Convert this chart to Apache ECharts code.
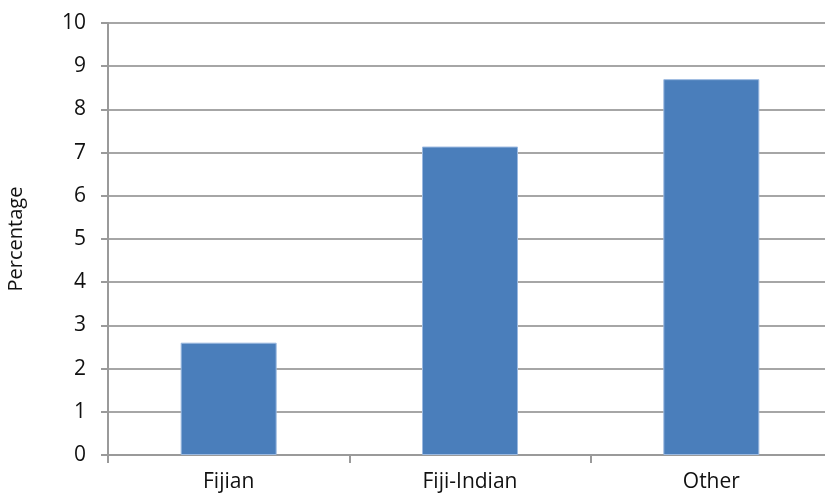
<!DOCTYPE html>
<html>
<head>
<meta charset="utf-8">
<script src="https://cdn.jsdelivr.net/npm/echarts@6/dist/echarts.min.js"></script>
<style>
    html, body { margin: 0; padding: 0; background: #fff; }
    #chart { width: 825px; height: 499px; }
</style>
</head>
<body>
<div id="chart"></div>
<script>
    var categories = ['Fijian', 'Fiji-Indian', 'Other'];
    var percentages = [2.6, 7.14, 8.7];
    var yTicks = [0, 10, 1]; // min, max, interval

    var font = '"Open Sans", "Noto Sans", sans-serif';
    var myChart = echarts.init(document.getElementById('chart'));
    var option = {
        animation: false,
        grid: { left: 108, right: -7, top: 23, bottom: 44, outerBoundsMode: 'none', containLabel: false },
        xAxis: {
            type: 'category',
            data: categories,
            axisLine: { lineStyle: { color: '#9a9a9a', width: 2 } },
            axisTick: { show: true, length: 8, lineStyle: { color: '#9a9a9a', width: 2 } },
            axisLabel: { color: '#111', fontSize: 21, fontFamily: font, margin: 17 }
        },
        yAxis: {
            type: 'value',
            min: yTicks[0],
            max: yTicks[1],
            interval: yTicks[2],
            name: 'Percentage',
            nameLocation: 'middle',
            nameGap: 82,
            nameRotate: 90,
            nameTextStyle: { color: '#111', fontSize: 20, fontFamily: font },
            axisLine: { show: true, lineStyle: { color: '#9a9a9a', width: 2 } },
            axisTick: { show: true, length: 7, lineStyle: { color: '#9a9a9a', width: 2 } },
            axisLabel: { color: '#111', fontSize: 21, fontFamily: font, margin: 22 },
            splitLine: { lineStyle: { color: '#a6a6a6', width: 2 } }
        },
        series: [{
            type: 'bar',
            data: percentages,
            barWidth: 96,
            itemStyle: { color: '#4a7ebb', borderColor: '#9bb9e0', borderWidth: 1 }
        }]
    };
    myChart.setOption(option);
</script>
</body>
</html>
